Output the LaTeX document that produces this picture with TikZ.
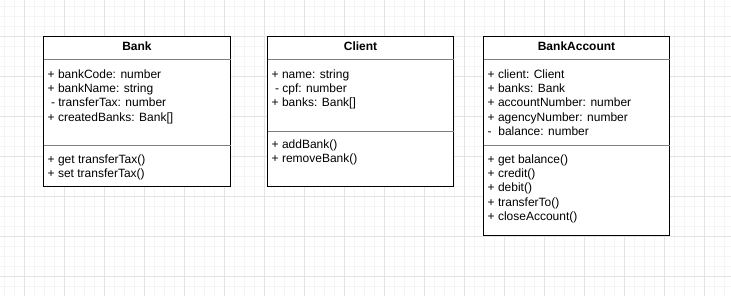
\documentclass[tikz,border=0pt]{standalone}
\usepackage{fontspec}
\setmainfont{Liberation Sans}
\begin{document}
\begin{tikzpicture}[x=1pt,y=-1pt,
  classbox/.style={draw=black, line width=1pt, fill=white, anchor=north west,
    inner sep=0pt, outer sep=0pt, minimum width=186pt},
  divider/.style={draw=black!50, line width=1pt},
  classname/.style={font=\fontsize{12}{14.4}\selectfont\bfseries, anchor=base, inner sep=0pt},
  member/.style={font=\fontsize{12}{14.4}\selectfont, anchor=base west, inner sep=0pt},
  minorgrid/.style={draw=black!4, line width=0.7pt},
  majorgrid/.style={draw=black!11, line width=0.7pt}]
\useasboundingbox (0,0) rectangle (731,296);
\fill[white] (0,0) rectangle (731,296);

% background grid: minor every 10, major every 40
\foreach \x in {4,14,...,724} \draw[minorgrid] (\x,0) -- (\x,296);
\foreach \y in {6,16,...,296} \draw[minorgrid] (0,\y) -- (731,\y);
\foreach \x in {24,64,...,704} \draw[majorgrid] (\x,0) -- (\x,296);
\foreach \y in {36,76,...,276} \draw[majorgrid] (0,\y) -- (731,\y);

% class boxes
\node[classbox, minimum width=187pt, minimum height=150pt] (bank) at (43.5,36.5) {};
\node[classbox, minimum height=150pt] (client) at (267.5,36.5) {};
\node[classbox, minimum height=199pt] (account) at (483.5,36.5) {};

% compartment dividers
\draw[divider] ([yshift=-23pt]bank.north west) -- ([yshift=-23pt]bank.north east);
\draw[divider] ([yshift=-109pt]bank.north west) -- ([yshift=-109pt]bank.north east);
\draw[divider] ([yshift=-23pt]client.north west) -- ([yshift=-23pt]client.north east);
\draw[divider] ([yshift=-95pt]client.north west) -- ([yshift=-95pt]client.north east);
\draw[divider] ([yshift=-23pt]account.north west) -- ([yshift=-23pt]account.north east);
\draw[divider] ([yshift=-109pt]account.north west) -- ([yshift=-109pt]account.north east);

% class names
\node[classname] (bank-name) at ([yshift=-14.5pt]bank.north) {Bank};
\node[classname] (client-name) at ([yshift=-14.5pt]client.north) {Client};
\node[classname] (account-name) at ([yshift=-14.5pt]account.north) {BankAccount};

% Bank members
\foreach \t [count=\i from 0] in {+ bankCode: number, + bankName: string,
    \ - transferTax: number, + createdBanks: Bank[]}
  \node[member] (bank-a\i) at ([xshift=4pt, yshift={-(41.8+14.35*\i)*1pt}]bank.north west) {\t};
\foreach \t [count=\i from 0] in {+ get transferTax(), + set transferTax()}
  \node[member] (bank-m\i) at ([xshift=4pt, yshift={-(126.8+14.35*\i)*1pt}]bank.north west) {\t};

% Client members
\foreach \t [count=\i from 0] in {+ name: string, \ - cpf: number, + banks: Bank[]}
  \node[member] (client-a\i) at ([xshift=4pt, yshift={-(41.8+14.35*\i)*1pt}]client.north west) {\t};
\foreach \t [count=\i from 0] in {+ addBank(), + removeBank()}
  \node[member] (client-m\i) at ([xshift=4pt, yshift={-(112.1+14.35*\i)*1pt}]client.north west) {\t};

% BankAccount members
\foreach \t [count=\i from 0] in {+ client: Client, + banks: Bank, + accountNumber: number,
    + agencyNumber: number, -\ \ balance: number}
  \node[member] (account-a\i) at ([xshift=4pt, yshift={-(41.8+14.35*\i)*1pt}]account.north west) {\t};
\foreach \t [count=\i from 0] in {+ get balance(), + credit(), + debit(), + transferTo(),
    + closeAccount()}
  \node[member] (account-m\i) at ([xshift=4pt, yshift={-(126.8+14.35*\i)*1pt}]account.north west) {\t};
\end{tikzpicture}
\end{document}
